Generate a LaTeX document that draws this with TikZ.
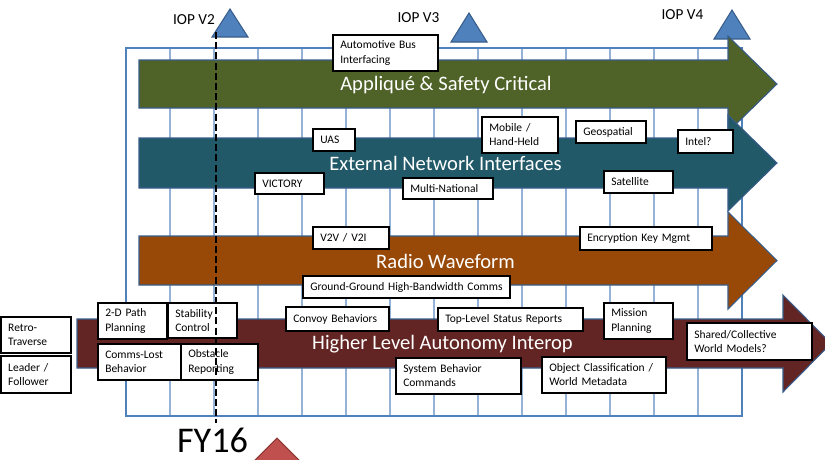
\documentclass[tikz,border=0pt]{standalone}
\usepackage{fontspec}
\setmainfont{Carlito}
\definecolor{bandgreen}{HTML}{4F6228}
\definecolor{bandteal}{HTML}{215968}
\definecolor{bandorange}{HTML}{984807}
\definecolor{bandred}{HTML}{632523}
\definecolor{shapeborder}{HTML}{385D8A}
\definecolor{msblue}{HTML}{4F81BD}
\definecolor{gridblue}{HTML}{95B3D7}
\definecolor{fyred}{HTML}{C0504D}
\definecolor{fyborder}{HTML}{8C3836}
\tikzset{
  gridline/.style={draw=gridblue, line width=0.8pt},
  gridframe/.style={draw=msblue, line width=1.2pt},
  band/.style={draw=shapeborder, line width=0.6pt},
  bandlabel/.style={text=white, font=\fontsize{11.7}{14}\selectfont, inner sep=0pt},
  tagbox/.style={draw=black, line width=1.1pt, fill=white, rectangle, inner xsep=1.45mm, inner ysep=0pt,
    align=left, font=\fontsize{6.55}{8}\selectfont},
  milestone/.style={draw=shapeborder, fill=msblue, line width=0.6pt},
  ioplabel/.style={font=\fontsize{8.7}{10}\selectfont, inner sep=0pt},
  fylabel/.style={font=\fontsize{20.6}{24}\selectfont, inner sep=0pt},
  fyline/.style={draw=black, line width=1.1pt, dash pattern=on 4pt off 1.8pt},
}
\exhyphenpenalty=10000
\hyphenpenalty=10000
\newcommand\tagbox[6]{%
  \pgfmathsetmacro\tbw{(#4-#2)*0.2}%
  \pgfmathsetmacro\tbh{(#5-#3)*0.2}%
  \pgfmathsetmacro\tbt{\tbw-2.9}%
  \node[tagbox, minimum width=\tbw mm, minimum height=\tbh mm, text width=\tbt mm] (#1) at ({(#2+#4)/2},{(#3+#5)/2}) {#6};}
\begin{document}
\begin{tikzpicture}[x=0.2mm,y=-0.2mm]
\useasboundingbox (0,0) rectangle (825,459);
% grid
\draw[gridline] \foreach \gx in {170,214,...,698} {(\gx,48) -- (\gx,416)};
\draw[gridframe] (126,48) rectangle (742,416);
% milestones
\path[milestone] (230,9) -- (248,37) -- (212,37) -- cycle;
\path[milestone] (469,13) -- (487,42) -- (451,42) -- cycle;
\path[milestone] (732,10) -- (750,39) -- (714,39) -- cycle;
\node[ioplabel] (iop2) at (194,20) {IOP V2};
\node[ioplabel] (iop3) at (418.5,18) {IOP V3};
\node[ioplabel] (iop4) at (682.5,15) {IOP V4};
% bands
\path[band, fill=bandgreen] (139,60) -- (728,60) -- (728,36) -- (777,84) -- (728,132) -- (728,108) -- (139,108) -- cycle;
\path[band, fill=bandteal] (139,138) -- (728,138) -- (728,115) -- (777,163) -- (728,211) -- (728,188) -- (139,188) -- cycle;
\path[band, fill=bandorange] (139,236) -- (728,236) -- (728,212) -- (777,260.5) -- (728,309) -- (728,285) -- (139,285) -- cycle;
\path[band, fill=bandred] (77,319) -- (783,319) -- (783,295) -- (831,343.5) -- (783,392) -- (783,368) -- (77,368) -- cycle;
\node[bandlabel] (lab1) at (446,85) {Appliqué \& Safety Critical};
\node[bandlabel] (lab2) at (445.5,163) {External Network Interfaces};
\node[bandlabel] (lab3) at (445.5,261) {Radio Waveform};
\node[bandlabel] (lab4) at (442.5,344.5) {Higher Level Autonomy Interop};
% boxes
\tagbox{autobus}{333}{35}{438}{71}{Automotive Bus\\Interfacing}
\tagbox{uas}{313}{129}{355}{151}{UAS}
\tagbox{mobile}{482}{117}{558}{153}{Mobile /\\Hand-Held}
\tagbox{geo}{576}{121}{646}{143}{Geospatial}
\tagbox{intel}{678}{130}{733}{153}{Intel?}
\tagbox{victory}{255}{173}{324}{194}{VICTORY}
\tagbox{multi}{403}{178}{493}{199}{Multi-National}
\tagbox{sat}{604}{171}{673}{193}{Satellite}
\tagbox{v2v}{313}{227}{389}{249}{V2V / V2I}
\tagbox{crypto}{580}{227}{712}{250}{Encryption Key Mgmt}
\tagbox{ggcomms}{303}{276}{510}{298}{Ground-Ground~High-Bandwidth~Comms}
\tagbox{retro}{1}{317}{71}{353}{Retro-\\Traverse}
\tagbox{leader}{1}{356}{71}{393}{Leader /\\Follower}
\tagbox{path}{98}{303}{167}{339}{2-D Path\\Planning}
\tagbox{stab}{168}{303}{237}{338}{Stability\\Control}
\tagbox{commslost}{98}{344}{181}{380}{Comms-Lost\\Behavior}
\tagbox{obst}{181}{344}{258}{380}{Obstacle\\Reporting}
\tagbox{convoy}{286}{307}{389}{331}{Convoy Behaviors}
\tagbox{sysbeh}{396}{358}{521}{394}{System Behavior\\Commands}
\tagbox{toplevel}{438}{308}{583}{331}{Top-Level Status Reports}
\tagbox{mission}{604}{303}{673}{339}{Mission\\Planning}
\tagbox{objclass}{542}{357}{666}{393}{Object Classification /\\World Metadata}
\tagbox{shared}{687}{323}{812}{360}{Shared/Collective\\World Models?}
% FY16 marker
\coordinate (fyTop) at (216,32);
\coordinate (fyBot) at (216,423);
\draw[fyline] (fyTop) -- (fyBot);
\node[fylabel] (fy16) at (212.5,440.5) {FY16};
\path[draw=fyborder, fill=fyred, line width=0.6pt] (277,438) -- (317,478) -- (237,478) -- cycle;
\end{tikzpicture}
\end{document}
